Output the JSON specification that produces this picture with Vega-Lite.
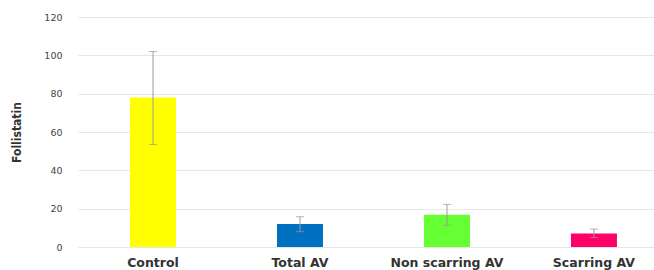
{
  "$schema": "https://vega.github.io/schema/vega-lite/v6.json",
  "autosize": "none",
  "width": 576,
  "height": 230,
  "padding": {"left": 78, "top": 17, "right": 0, "bottom": 23},
  "background": "white",
  "data": {"values": [
    {"group": "Control", "value": 78, "low": 53.5, "high": 102, "color": "#FFFF00"},
    {"group": "Total AV", "value": 12, "low": 8, "high": 15.8, "color": "#0070C0"},
    {"group": "Non scarring AV", "value": 16.8, "low": 11.3, "high": 22.2, "color": "#66FF33"},
    {"group": "Scarring AV", "value": 7.1, "low": 5, "high": 9.4, "color": "#FF0066"}
  ]},
  "encoding": {
    "x": {"field": "group", "type": "nominal", "sort": null,
      "scale": {"paddingInner": 0.687, "paddingOuter": 0.303, "align": 0.584},
      "axis": {"title": null, "labelAngle": 0, "domain": false, "ticks": false, "labelPadding": 9,
        "labelFont": "DejaVu Sans", "labelFontWeight": "bold", "labelFontSize": 12.5, "labelColor": "#333333"}}
  },
  "layer": [
    {"mark": {"type": "bar"},
      "encoding": {
        "y": {"field": "value", "type": "quantitative", "title": "Follistatin",
          "scale": {"domain": [0, 120]},
          "axis": {"values": [0, 20, 40, 60, 80, 100, 120]}},
        "color": {"field": "color", "type": "nominal", "scale": null}
      }},
    {"mark": {"type": "rule", "color": "#999999", "strokeWidth": 1},
      "encoding": {"y": {"field": "low", "type": "quantitative", "title": "Follistatin", "axis": {"values": [0, 20, 40, 60, 80, 100, 120]}}, "y2": {"field": "high"}}},
    {"mark": {"type": "tick", "color": "#999999", "size": 8, "thickness": 1},
      "encoding": {"y": {"field": "low", "type": "quantitative", "title": "Follistatin", "axis": {"values": [0, 20, 40, 60, 80, 100, 120]}}}},
    {"mark": {"type": "tick", "color": "#999999", "size": 8, "thickness": 1},
      "encoding": {"y": {"field": "high", "type": "quantitative", "title": "Follistatin", "axis": {"values": [0, 20, 40, 60, 80, 100, 120]}}}}
  ],
  "config": {
    "view": {"stroke": null},
    "axisY": {"labelOverlap": false, "domain": false, "ticks": false,
      "gridColor": "#e6e6e6", "gridWidth": 1, "labelPadding": 16,
      "labelFont": "DejaVu Sans", "labelFontSize": 9.5, "labelColor": "#444444",
      "titleFont": "DejaVu Sans Condensed", "titleFontSize": 12,
      "titleFontWeight": "bold", "titleColor": "#333333", "titlePadding": 20}
  }
}
